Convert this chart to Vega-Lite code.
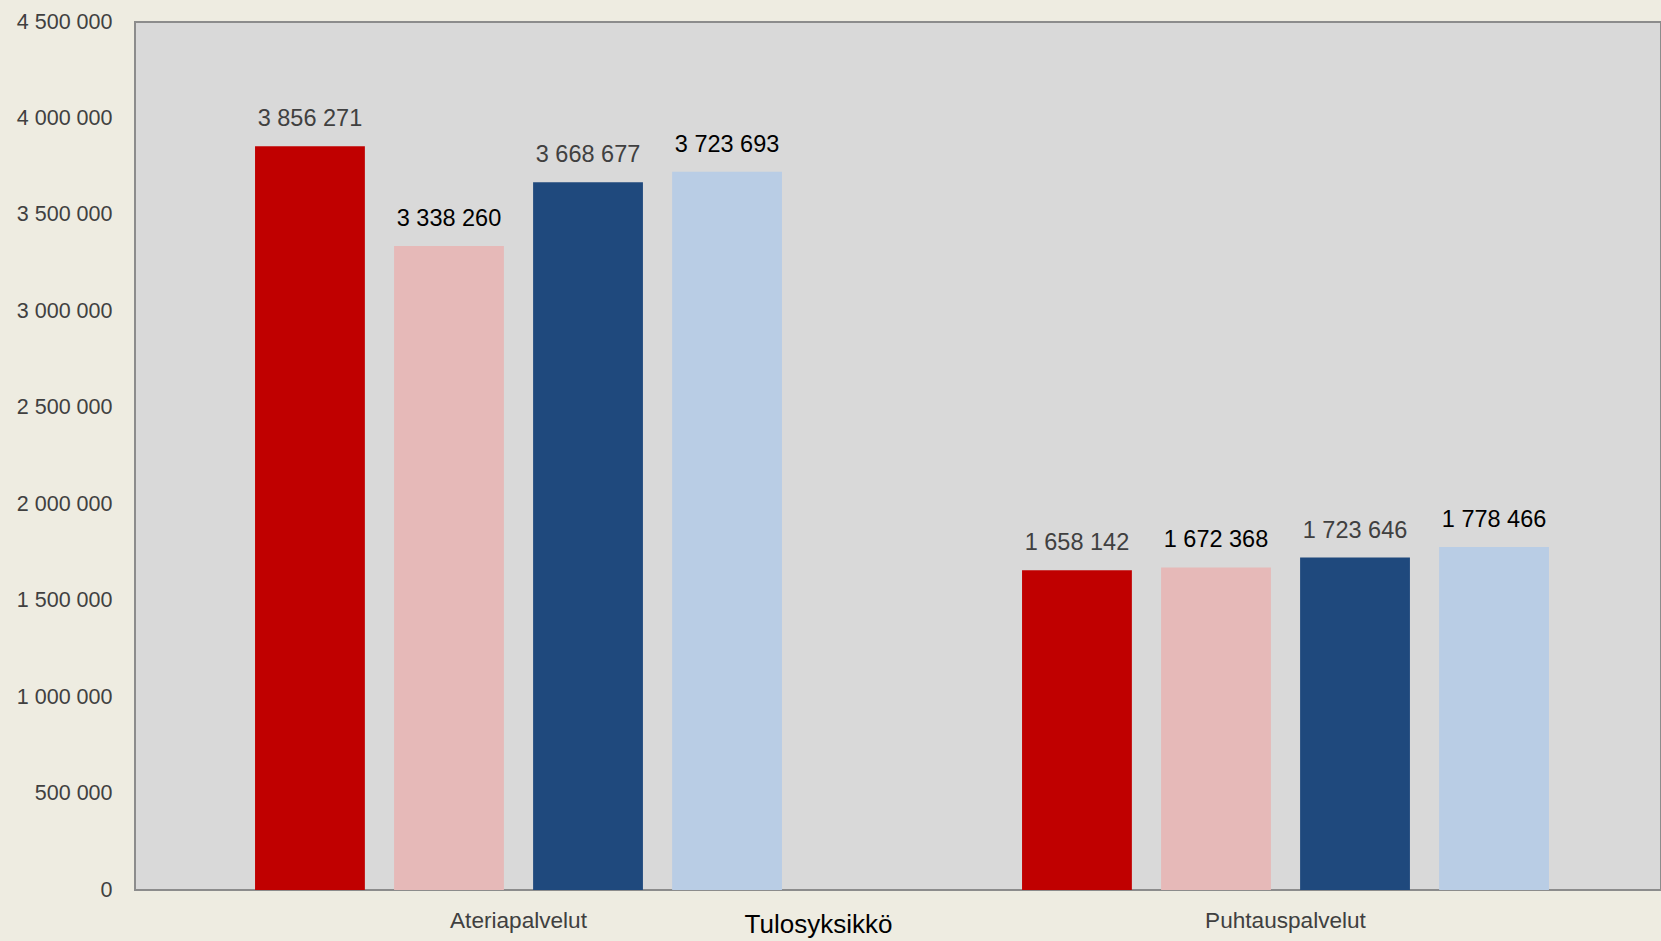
{
  "$schema": "https://vega.github.io/schema/vega-lite/v6.json",
  "width": 1526,
  "height": 868,
  "autosize": {"type": "none"},
  "padding": {"left": 135, "top": 22, "right": 0, "bottom": 51},
  "background": "#EEECE1",
  "config": {
    "locale": {"number": {"decimal": ",", "thousands": " ", "grouping": [3], "currency": ["", " €"]}},
    "view": {"fill": "#D9D9D9", "stroke": "#8C8C8C", "strokeWidth": 2},
    "font": "Liberation Sans, Arial, sans-serif"
  },
  "data": {
    "values": [
      {"yksikko": "Ateriapalvelut", "sarja": "Sarja 1", "arvo": 3856271},
      {"yksikko": "Ateriapalvelut", "sarja": "Sarja 2", "arvo": 3338260},
      {"yksikko": "Ateriapalvelut", "sarja": "Sarja 3", "arvo": 3668677},
      {"yksikko": "Ateriapalvelut", "sarja": "Sarja 4", "arvo": 3723693},
      {"yksikko": "Puhtauspalvelut", "sarja": "Sarja 1", "arvo": 1658142},
      {"yksikko": "Puhtauspalvelut", "sarja": "Sarja 2", "arvo": 1672368},
      {"yksikko": "Puhtauspalvelut", "sarja": "Sarja 3", "arvo": 1723646},
      {"yksikko": "Puhtauspalvelut", "sarja": "Sarja 4", "arvo": 1778466}
    ]
  },
  "encoding": {
    "x": {
      "field": "yksikko",
      "type": "nominal",
      "sort": null,
      "scale": {"range": [0, 1534], "paddingInner": 0.313, "paddingOuter": 0.1565},
      "axis": {
        "title": "Tulosyksikkö",
        "titleFontSize": 26,
        "titleColor": "#000000",
        "titleFontWeight": "normal",
        "titleX": 683,
        "titleY": 42,
        "titleBaseline": "alphabetic",
        "titleAlign": "center",
        "labelFontSize": 22.6,
        "labelColor": "#404040",
        "labelAngle": 0,
        "labelBaseline": "alphabetic",
        "labelPadding": 37,
        "labelLimit": 500,
        "ticks": false,
        "domain": false,
        "grid": false
      }
    },
    "xOffset": {
      "field": "sarja",
      "type": "nominal",
      "sort": null,
      "scale": {"paddingInner": 0.21, "paddingOuter": 0}
    },
    "y": {
      "field": "arvo",
      "type": "quantitative",
      "scale": {"domain": [0, 4500000], "nice": false, "zero": true},
      "axis": {
        "title": null,
        "values": [0, 500000, 1000000, 1500000, 2000000, 2500000, 3000000, 3500000, 4000000, 4500000],
        "format": ",d",
        "labelFontSize": 21.5,
        "labelColor": "#404040",
        "labelPadding": 23,
        "labelLimit": 300,
        "ticks": false,
        "domain": false,
        "grid": false
      }
    }
  },
  "layer": [
    {
      "mark": {"type": "bar"},
      "encoding": {
        "color": {
          "field": "sarja",
          "type": "nominal",
          "sort": null,
          "scale": {"range": ["#C00000", "#E6B9B8", "#1F497D", "#B9CDE5"]},
          "legend": null
        }
      }
    },
    {
      "mark": {"type": "text", "baseline": "alphabetic", "dy": -20, "fontSize": 23.5},
      "encoding": {
        "text": {"field": "arvo", "type": "quantitative", "format": ",d"},
        "color": {
          "condition": {"test": "datum.sarja === 'Sarja 2' || datum.sarja === 'Sarja 4'", "value": "#000000"},
          "value": "#404040"
        }
      }
    }
  ]
}
